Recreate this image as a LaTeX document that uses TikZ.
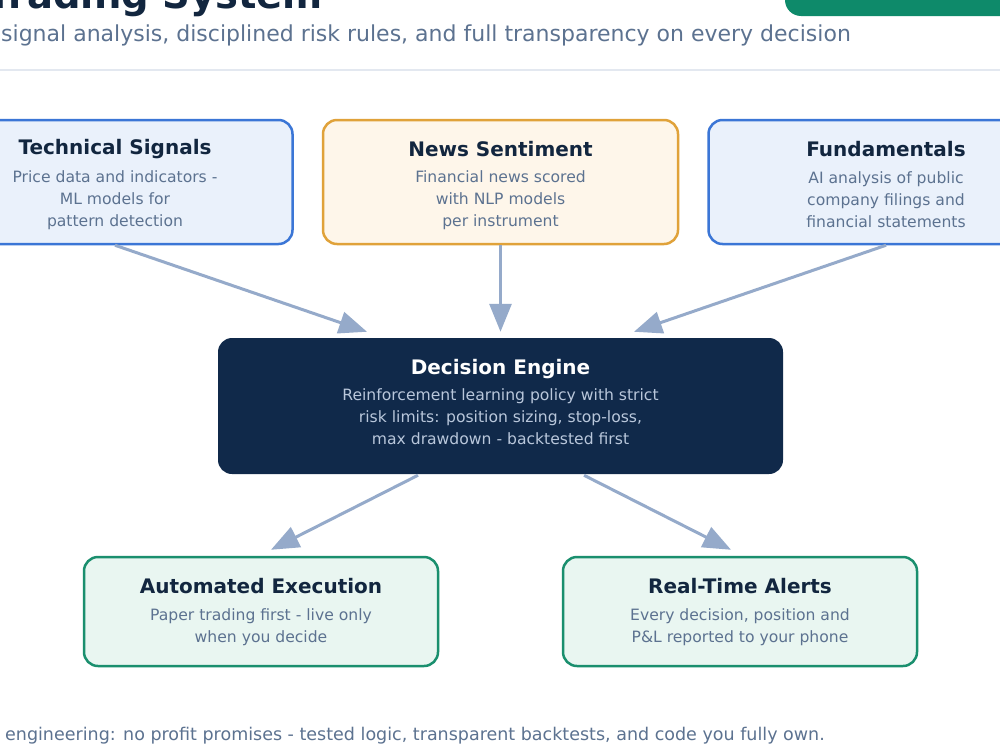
\documentclass[tikz,border=0pt]{standalone}
\usepackage{fontspec}
\setmainfont{DejaVu Sans}
\usetikzlibrary{arrows.meta,calc}
\definecolor{navy}{HTML}{10294A}
\definecolor{ttl}{HTML}{12263F}
\definecolor{bodytxt}{HTML}{5C7290}
\definecolor{engtxt}{HTML}{B9C7DB}
\definecolor{bluebd}{HTML}{3B76D6}
\definecolor{bluefl}{HTML}{EAF1FB}
\definecolor{orgbd}{HTML}{E0A23A}
\definecolor{orgfl}{HTML}{FEF6EA}
\definecolor{grnbd}{HTML}{1A8F6E}
\definecolor{grnfl}{HTML}{E9F6F1}
\definecolor{arrowc}{HTML}{95AACA}
\definecolor{rulec}{HTML}{E3E8F0}
\definecolor{btn}{HTML}{0E8A6A}
\tikzset{
  card/.style={rounded corners=14pt, line width=2.5pt, inner sep=0pt},
  topcard/.style={card, minimum width=355pt, minimum height=124pt},
  bluecard/.style={topcard, draw=bluebd, fill=bluefl},
  orgcard/.style={topcard, draw=orgbd, fill=orgfl},
  engcard/.style={card, fill=navy, draw=none, minimum width=565pt, minimum height=136pt},
  outcard/.style={card, draw=grnbd, fill=grnfl, minimum width=354pt, minimum height=109pt},
  cardtitle/.style={font=\fontsize{20}{24}\selectfont\bfseries, text=ttl, inner sep=0pt},
  cardbody/.style={font=\fontsize{15.6}{22}\selectfont, text=bodytxt, align=center, inner sep=0pt},
  flow/.style={draw=arrowc, line width=3pt, -{Triangle[length=28pt,width=22pt]}},
}
\begin{document}
\begin{tikzpicture}[x=1pt,y=-1pt]
\useasboundingbox (0,0) rectangle (1000,750);
\clip (0,0) rectangle (1000,750);
\fill[white] (0,0) rectangle (1000,750);
% header
\node[anchor=base east, font=\fontsize{38.5}{42}\selectfont\bfseries, text=ttl, inner sep=0pt] (title) at (323,8) {Trading System};
\node[anchor=base west, font=\fontsize{22}{26}\selectfont, text=bodytxt, inner sep=0pt] (subtitle) at (1,41) {signal analysis, disciplined risk rules, and full transparency on every decision};
\fill[btn, rounded corners=16pt] (785,-40) rectangle (1040,16);
\draw[rulec, line width=2pt] (-10,70) -- (1010,70);
% cards
\node[bluecard] (tech) at (115,182) {};
\node[orgcard] (news) at (500.5,182) {};
\node[bluecard] (fund) at (886,182) {};
\node[engcard] (eng) at (500.5,406) {};
\node[outcard] (exec) at (261,611.5) {};
\node[outcard] (alert) at (740,611.5) {};
% texts
\node[cardtitle] (techT) at ($(tech.north)+(0,30)$) {Technical Signals};
\node[cardbody] (techB) at ($(tech.north)+(0,81)$) {Price data and indicators -\\ML models for\\pattern detection};
\node[cardtitle] (newsT) at ($(news.north)+(0,30)$) {News Sentiment};
\node[cardbody] (newsB) at ($(news.north)+(0,81)$) {Financial news scored\\with NLP models\\per instrument};
\node[cardtitle] (fundT) at ($(fund.north)+(0,30)$) {Fundamentals};
\node[cardbody] (fundB) at ($(fund.north)+(0,81)$) {AI analysis of public\\company filings and\\financial statements};
\node[cardtitle, text=white] (engT) at ($(eng.north)+(0,32)$) {Decision Engine};
\node[cardbody, text=engtxt] (engB) at ($(eng.north)+(0,80)$) {Reinforcement learning policy with strict\\risk limits: position sizing, stop-loss,\\max drawdown - backtested first};
\node[cardtitle] (execT) at ($(exec.north)+(0,30)$) {Automated Execution};
\node[cardbody] (execB) at ($(exec.north)+(0,71)$) {Paper trading first - live only\\when you decide};
\node[cardtitle] (alertT) at ($(alert.north)+(0,30)$) {Real-Time Alerts};
\node[cardbody] (alertB) at ($(alert.north)+(0,71)$) {Every decision, position and\\P\&L reported to your phone};
% connector anchors
\coordinate (inA) at ($(eng.north)+(-133.5,-5)$);
\coordinate (inB) at ($(eng.north)+(0,-5)$);
\coordinate (inC) at ($(eng.north)+(133.5,-5)$);
\coordinate (outA) at ($(eng.south)+(-82.5,0)$);
\coordinate (outB) at ($(eng.south)+(83.5,0)$);
\coordinate (execIn) at ($(exec.north)+(10,-6)$);
\coordinate (alertIn) at ($(alert.north)+(-9,-6)$);
\draw[flow] (tech.south) -- (inA);
\draw[flow] (news.south) -- (inB);
\draw[flow] (fund.south) -- (inC);
\draw[flow] (outA) -- (execIn);
\draw[flow] (outB) -- (alertIn);
% footer
\node[anchor=base east, font=\fontsize{17.5}{20}\selectfont, text=bodytxt, inner sep=0pt] (footer) at (825,740) {engineering: no profit promises - tested logic, transparent backtests, and code you fully own.};
\end{tikzpicture}
\end{document}
